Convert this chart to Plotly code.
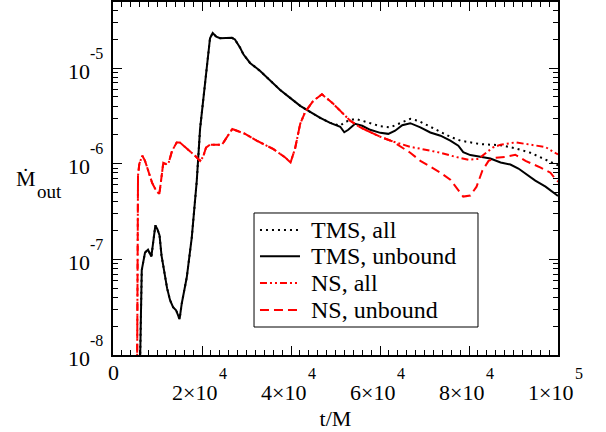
import math
import plotly.graph_objects as go

# ---------------- data ----------------
tms_unb_t = [6000, 6460, 7200, 7870, 8620, 9520, 10000, 10460, 10900, 11470, 12150, 12820, 13500, 14170,
             14600, 14960, 15460, 16580, 17700, 18830, 19570, 20700, 21370, 21800, 22400, 23200, 24070,
             25400, 26700, 27400, 28570, 29300, 30800, 33070, 35300, 37570, 39800, 42070, 44300, 46570,
             48800, 51070, 51970, 52870, 54400, 56000, 57800, 60070, 61870, 63400, 65000, 66800, 69070,
             71300, 73600, 75800, 77600, 78700, 80300, 82600, 84800, 87100, 89300, 91100, 92700, 94900,
             97200, 99700, 100000]
tms_unb_v = [5e-9, 7.7e-8, 1.18e-7, 1.26e-7, 1.07e-7, 2.26e-7, 2.05e-7, 1.78e-7, 1.10e-7, 7.3e-8, 5.0e-8,
             3.74e-8, 3.16e-8, 2.94e-8, 2.61e-8, 2.37e-8, 3.48e-8, 6.49e-8, 1.69e-7, 6.65e-7, 2.32e-6,
             7.33e-6, 1.50e-5, 2.05e-5, 2.32e-5, 2.13e-5, 2.05e-5, 2.05e-5, 2.07e-5, 1.99e-5, 1.63e-5,
             1.39e-5, 1.13e-5, 9.3e-6, 7.33e-6, 5.9e-6, 4.87e-6, 4.02e-6, 3.48e-6, 3.01e-6, 2.67e-6,
             2.43e-6, 2.13e-6, 2.26e-6, 2.61e-6, 2.49e-6, 2.26e-6, 2.10e-6, 2.05e-6, 2.21e-6, 2.52e-6,
             2.65e-6, 2.40e-6, 2.12e-6, 1.96e-6, 1.74e-6, 1.54e-6, 1.32e-6, 1.23e-6, 1.18e-6, 1.13e-6,
             1.03e-6, 9.8e-7, 8.9e-7, 7.9e-7, 6.65e-7, 5.75e-7, 4.65e-7, 4.6e-7]

tms_all_t = [6000, 6460, 7200, 7870, 8620, 9520, 10000, 10460, 10900, 11470, 12150, 12820, 13500, 14170,
             14600, 14960, 15460, 16580, 17700, 18830, 19570, 20700, 21370, 21800, 22400, 23200, 24070,
             25400, 26700, 27400, 28570, 29300, 30800, 33070, 35300, 37570, 39800, 42070, 44300, 46570,
             48800, 51070, 52200, 53300, 54400, 56000, 57800, 60070, 62300, 64100, 65700, 66800, 68600,
             71300, 73600, 75800, 78100, 80300, 82600, 87100, 90400, 93800, 97200, 99700, 100000]
tms_all_v = [5e-9, 7.7e-8, 1.18e-7, 1.26e-7, 1.07e-7, 2.26e-7, 2.05e-7, 1.78e-7, 1.10e-7, 7.3e-8, 5.0e-8,
             3.74e-8, 3.16e-8, 2.94e-8, 2.61e-8, 2.37e-8, 3.48e-8, 6.49e-8, 1.69e-7, 6.65e-7, 2.32e-6,
             7.33e-6, 1.50e-5, 2.05e-5, 2.32e-5, 2.13e-5, 2.05e-5, 2.05e-5, 2.07e-5, 1.99e-5, 1.63e-5,
             1.39e-5, 1.13e-5, 9.3e-6, 7.33e-6, 5.9e-6, 4.87e-6, 4.02e-6, 3.48e-6, 3.01e-6, 2.67e-6,
             2.5e-6, 2.74e-6, 2.85e-6, 2.94e-6, 2.81e-6, 2.67e-6, 2.46e-6, 2.40e-6, 2.61e-6, 2.84e-6,
             2.94e-6, 2.81e-6, 2.43e-6, 2.15e-6, 1.91e-6, 1.74e-6, 1.66e-6, 1.60e-6, 1.56e-6, 1.45e-6,
             1.30e-6, 1.11e-6, 9.8e-7, 9.6e-7]

ns_all_t = [5330, 5400, 5470, 5620, 5920, 6590, 7200, 7870, 8770, 9670, 10420, 10800, 11300, 11900, 12500,
            13270, 14330, 15070, 16200, 17320, 18450, 19570, 20250, 20900, 21800, 24500, 25400, 26300,
            26800, 29700, 32300, 36060, 38700, 39900, 40900, 42070, 43200, 45000, 46950, 49500, 51700,
            53300, 55600, 57800, 60070, 62800, 64600, 66800, 70200, 73600, 76900, 79900, 82100, 83700,
            85300, 87100, 90400, 93800, 97200, 99700, 100000]
ns_all_v = [1e-9, 3.7e-8, 4.12e-7, 7.5e-7, 1.0e-6, 1.21e-6, 1.07e-6, 8.45e-7, 6.34e-7, 5.24e-7, 4.83e-7,
            6.65e-7, 1.02e-6, 9.9e-7, 1.02e-6, 1.36e-6, 1.67e-6, 1.66e-6, 1.50e-6, 1.33e-6, 1.21e-6,
            1.07e-6, 1.18e-6, 1.47e-6, 1.58e-6, 1.58e-6, 1.82e-6, 2.15e-6, 2.30e-6, 2.05e-6, 1.74e-6,
            1.42e-6, 1.16e-6, 1.03e-6, 1.43e-6, 2.61e-6, 3.48e-6, 4.53e-6, 5.32e-6, 4.22e-6, 3.32e-6,
            2.81e-6, 2.39e-6, 2.15e-6, 1.91e-6, 1.71e-6, 1.61e-6, 1.50e-6, 1.40e-6, 1.30e-6, 1.18e-6,
            1.10e-6, 1.12e-6, 1.27e-6, 1.47e-6, 1.58e-6, 1.67e-6, 1.58e-6, 1.49e-6, 1.27e-6, 1.25e-6]

ns_unb_t = [5330, 5400, 5470, 5620, 5920, 6590, 7200, 7870, 8770, 9670, 10420, 10800, 11300, 11900, 12500,
            13270, 14330, 15070, 16200, 17320, 18450, 19570, 20250, 20900, 21800, 24500, 25400, 26300,
            26800, 29700, 32300, 36060, 38700, 39900, 40900, 42070, 43200, 45000, 46950, 49500, 51700,
            53300, 55600, 57800, 60070, 62800, 64600, 66800, 69070, 71300, 73600, 75800, 77400, 78700,
            80300, 81700, 83000, 84400, 85900, 88200, 90400, 92700, 96100, 98300, 99700, 100000]
ns_unb_v = [1e-9, 3.7e-8, 4.12e-7, 7.5e-7, 1.0e-6, 1.21e-6, 1.07e-6, 8.45e-7, 6.34e-7, 5.24e-7, 4.83e-7,
            6.65e-7, 1.02e-6, 9.9e-7, 1.02e-6, 1.36e-6, 1.67e-6, 1.66e-6, 1.50e-6, 1.33e-6, 1.21e-6,
            1.07e-6, 1.18e-6, 1.47e-6, 1.58e-6, 1.58e-6, 1.82e-6, 2.15e-6, 2.30e-6, 2.05e-6, 1.74e-6,
            1.42e-6, 1.16e-6, 1.03e-6, 1.43e-6, 2.61e-6, 3.48e-6, 4.53e-6, 5.32e-6, 4.22e-6, 3.32e-6,
            2.81e-6, 2.39e-6, 2.15e-6, 1.91e-6, 1.71e-6, 1.50e-6, 1.30e-6, 1.07e-6, 9.3e-7, 8.05e-7,
            6.8e-7, 5.5e-7, 4.53e-7, 4.65e-7, 5.75e-7, 8.45e-7, 1.07e-6, 1.15e-6, 1.18e-6, 1.24e-6,
            1.07e-6, 9.1e-7, 8.05e-7, 6.65e-7, 6.5e-7]

series_names = ["TMS, all", "TMS, unbound", "NS, all", "NS, unbound"]

x_tickvals = [0, 20000, 40000, 60000, 80000, 100000]
x_tick_mant = ["0", "2×10", "4×10", "6×10", "8×10", "1×10"]
x_tick_exp = ["", "4", "4", "4", "4", "5"]
y_tickvals = [1e-8, 1e-7, 1e-6, 1e-5]
y_tick_mant = ["10", "10", "10", "10"]
y_tick_exp = ["-8", "-7", "-6", "-5"]

FONT = "Liberation Serif, DejaVu Serif, serif"
styles = [dict(color="black", width=2, dash="2px,4px"),
          dict(color="black", width=2),
          dict(color="red", width=2, dash="7px,3px,2px,3px,2px,3px"),
          dict(color="red", width=2, dash="9px,5px")]

fig = go.Figure()
for name, tx, vy, st in zip(series_names, [tms_all_t, tms_unb_t, ns_all_t, ns_unb_t],
                            [tms_all_v, tms_unb_v, ns_all_v, ns_unb_v], styles):
    fig.add_trace(go.Scatter(x=tx, y=vy, mode="lines", name=name, line=st, showlegend=False))

minor_y = [k * 10.0 ** e for e in range(-8, -4) for k in range(2, 10)]

fig.update_xaxes(range=[0, 100000], tickvals=x_tickvals, showticklabels=False, automargin=False,
                 ticks="inside", ticklen=9, tickwidth=1, tickcolor="black",
                 minor=dict(dtick=2000, ticks="inside", ticklen=5, tickcolor="black", tickwidth=1),
                 showline=True, linecolor="black", linewidth=1.5, mirror="ticks",
                 showgrid=False, zeroline=False,
                 title=dict(text="t/M", font=dict(family=FONT, size=22, color="black"), standoff=55))
fig.update_yaxes(type="log", range=[-8, -4.31], tickvals=y_tickvals, showticklabels=False, automargin=False,
                 ticks="inside", ticklen=9, tickwidth=1, tickcolor="black",
                 minor=dict(tickvals=minor_y, ticks="inside", ticklen=5, tickcolor="black", tickwidth=1),
                 showline=True, linecolor="black", linewidth=1.5, mirror="ticks",
                 showgrid=False, zeroline=False)

TF = dict(family=FONT, size=22, color="black")
SF = dict(family=FONT, size=16, color="black")
ann = []
# x tick labels (mantissa + raised exponent)
for v, m, e in zip(x_tickvals, x_tick_mant, x_tick_exp):
    if e == "":
        ann.append(dict(x=v, y=0, xref="x", yref="paper", text=m, showarrow=False,
                        xanchor="center", yanchor="middle", yshift=-17, font=TF))
    else:
        ann.append(dict(x=v, y=0, xref="x", yref="paper", text=m, showarrow=False,
                        xanchor="right", yanchor="middle", xshift=17, yshift=-37, font=TF))
        ann.append(dict(x=v, y=0, xref="x", yref="paper", text=e, showarrow=False,
                        xanchor="left", yanchor="middle", xshift=15, yshift=-18, font=SF))
# y tick labels
for v, m, e in zip(y_tickvals, y_tick_mant, y_tick_exp):
    ann.append(dict(x=0, y=math.log10(v), xref="paper", yref="y", text=m, showarrow=False,
                    xanchor="right", yanchor="middle", xshift=-21, yshift=-3, font=TF))
    ann.append(dict(x=0, y=math.log10(v), xref="paper", yref="y", text=e, showarrow=False,
                    xanchor="left", yanchor="middle", xshift=-25, yshift=15, font=SF))
# y axis title  (M-dot with subscript "out")
ann.append(dict(x=-0.222, y=0.50, xref="paper", yref="paper", text="Ṁ", showarrow=False,
                xanchor="left", yanchor="middle", font=dict(family=FONT, size=22, color="black")))
ann.append(dict(x=-0.176, y=0.462, xref="paper", yref="paper", text="out", showarrow=False,
                xanchor="left", yanchor="middle", font=dict(family=FONT, size=19, color="black")))

# legend (box, line samples, labels)
shapes = [dict(type="rect", xref="paper", yref="paper", x0=0.3169, x1=0.8202, y0=0.0793, y1=0.4023,
               line=dict(color="black", width=1), fillcolor="white", layer="above")]
leg_rows = [0.354, 0.280, 0.204, 0.1275]
for name, st, yy in zip(series_names, styles, leg_rows):
    shapes.append(dict(type="line", xref="paper", yref="paper", x0=0.3303, x1=0.4202, y0=yy, y1=yy,
                       line=dict(color=st["color"], width=st["width"], dash=st.get("dash", "solid")),
                       layer="above"))
    ann.append(dict(x=0.440, y=yy, xref="paper", yref="paper", text=name, showarrow=False,
                    xanchor="left", yanchor="middle", font=dict(family=FONT, size=24, color="black")))

fig.update_layout(
    width=606, height=432,
    margin=dict(l=113, r=48, t=2, b=77),
    paper_bgcolor="white", plot_bgcolor="white",
    font=dict(family=FONT, size=22, color="black"),
    showlegend=False,
    annotations=ann,
    shapes=shapes,
)

fig.write_html("out.html", config={"displayModeBar": False},
               post_script="document.body.style.margin='0px';")
